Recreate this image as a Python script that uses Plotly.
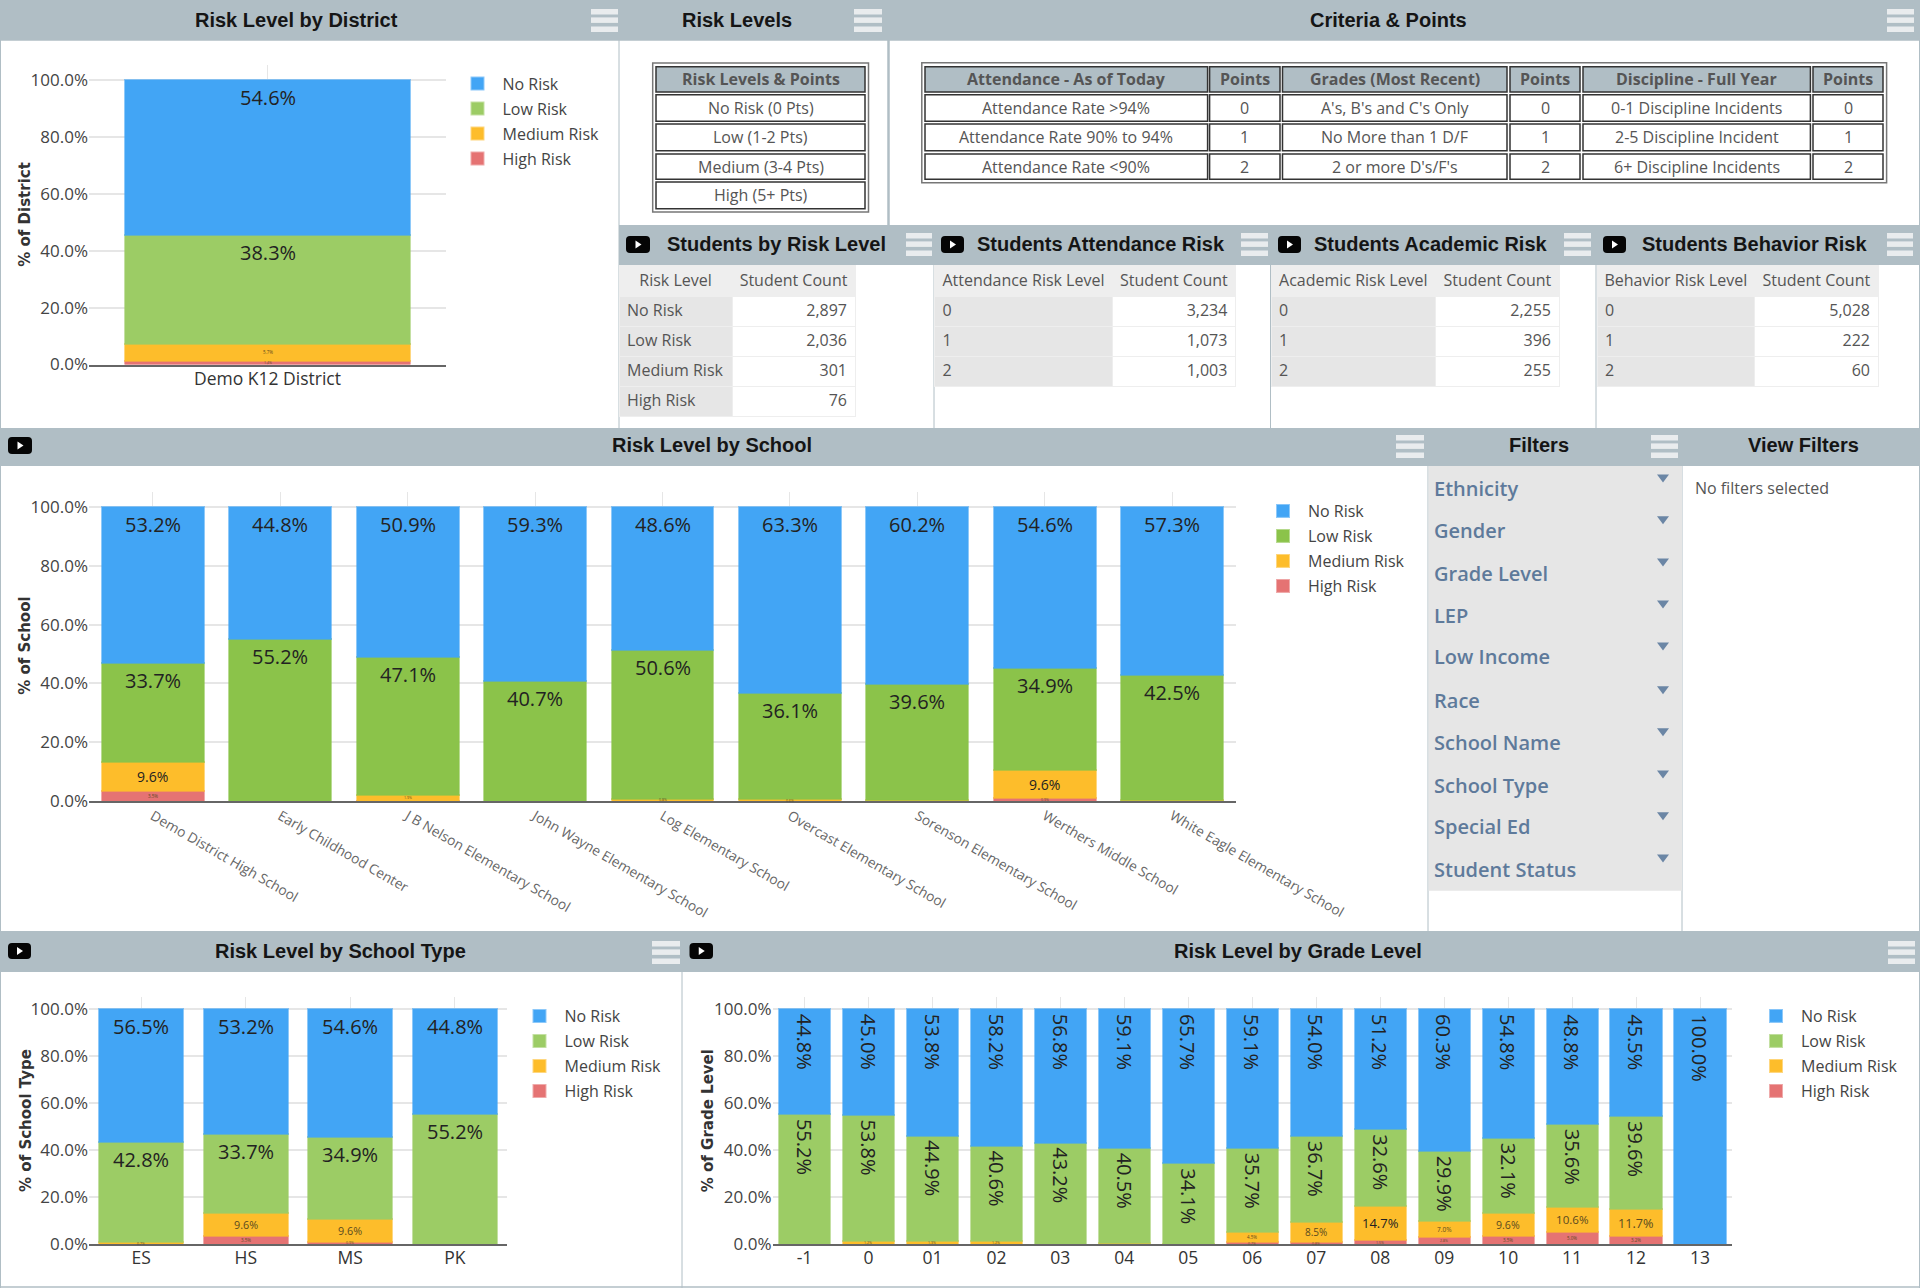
import plotly.graph_objects as go

W, H = 1920, 1288
RISKS = ["High Risk", "Medium Risk", "Low Risk", "No Risk"]

district_cats = ["Demo K12 District"]
district_no = [54.6]
district_low = [38.3]
district_med = [5.7]
district_high = [1.4]

school_cats = ["Demo District High School", "Early Childhood Center", "J B Nelson Elementary School",
               "John Wayne Elementary School", "Log Elementary School", "Overcast Elementary School",
               "Sorenson Elementary School", "Werthers Middle School", "White Eagle Elementary School"]
school_no = [53.2, 44.8, 50.9, 59.3, 48.6, 63.3, 60.2, 54.6, 57.3]
school_low = [33.7, 55.2, 47.1, 40.7, 50.6, 36.1, 39.6, 34.9, 42.5]
school_med = [9.6, 0, 1.9, 0, 0.8, 0.6, 0.2, 9.6, 0.2]
school_high = [3.5, 0, 0.1, 0, 0, 0, 0, 0.9, 0]

type_cats = ["ES", "HS", "MS", "PK"]
type_no = [56.5, 53.2, 54.6, 44.8]
type_low = [42.8, 33.7, 34.9, 55.2]
type_med = [0.7, 9.6, 9.6, 0]
type_high = [0, 3.5, 0.9, 0]

grade_cats = ["-1", "0", "01", "02", "03", "04", "05", "06", "07", "08", "09", "10", "11", "12", "13"]
grade_no = [44.8, 45.0, 53.8, 58.2, 56.8, 59.1, 65.7, 59.1, 54.0, 51.2, 60.3, 54.8, 48.8, 45.5, 100.0]
grade_low = [55.2, 53.8, 44.9, 40.6, 43.2, 40.5, 34.1, 35.7, 36.7, 32.6, 29.9, 32.1, 35.6, 39.6, 0]
grade_med = [0, 1.2, 1.3, 1.2, 0, 0.4, 0.2, 4.5, 8.5, 14.7, 7.0, 9.6, 10.6, 11.7, 0]
grade_high = [0, 0, 0, 0, 0, 0, 0, 0.7, 0.8, 1.5, 2.8, 3.5, 5.0, 3.2, 0]

y_tickvals = [0, 20, 40, 60, 80, 100]
y_ticktext = ["0.0%", "20.0%", "40.0%", "60.0%", "80.0%", "100.0%"]

levels_header = ["Risk Levels & Points"]
levels_rows = ["No Risk (0 Pts)", "Low (1-2 Pts)", "Medium (3-4 Pts)", "High (5+ Pts)"]

crit_header = ["Attendance - As of Today", "Points", "Grades (Most Recent)", "Points", "Discipline - Full Year", "Points"]
crit_attendance = ["Attendance Rate >94%", "Attendance Rate 90% to 94%", "Attendance Rate <90%"]
crit_grades = ["A's, B's and C's Only", "No More than 1 D/F", "2 or more D's/F's"]
crit_discipline = ["0-1 Discipline Incidents", "2-5 Discipline Incident", "6+ Discipline Incidents"]
crit_points = ["0", "1", "2"]

risk_labels = ["No Risk", "Low Risk", "Medium Risk", "High Risk"]
risk_counts = ["2,897", "2,036", "301", "76"]
level_labels = ["0", "1", "2"]
attendance_counts = ["3,234", "1,073", "1,003"]
academic_counts = ["2,255", "396", "255"]
behavior_counts = ["5,028", "222", "60"]

filter_names = ["Ethnicity", "Gender", "Grade Level", "LEP", "Low Income", "Race",
                "School Name", "School Type", "Special Ed", "Student Status"]

HEAD = "#B0BEC5"
BLUE, ORANGE, RED = "#42A5F5", "#FDBD2B", "#E57373"
GREEN_L, GREEN_D = "#9CCC65", "#8BC34A"
FONT = "Open Sans"
TXT = "#555555"


def X(p):
    return p / W


def Y(p):
    return 1 - p / H


def rgba(c, a=0.6):
    return f"rgba({int(c[1:3],16)},{int(c[3:5],16)},{int(c[5:7],16)},{a})"


def nowrap(s):
    return s.replace(" ", "\u00a0")


shapes, annos = [], []
fig = go.Figure()


def rect(x0, y0, x1, y1, fill=None, line=None, lw=1, layer="below"):
    shapes.append(dict(type="rect", xref="paper", yref="paper", x0=X(x0), x1=X(x1), y0=Y(y0), y1=Y(y1),
                       fillcolor=fill or "rgba(0,0,0,0)", line=dict(color=line or "rgba(0,0,0,0)", width=lw if line else 0),
                       layer=layer))


def text(x, y, s, size=15, color=TXT, family=FONT, weight=None, xanchor="center", angle=0):
    annos.append(dict(xref="paper", yref="paper", x=X(x), y=Y(y), text=s, showarrow=False, xanchor=xanchor,
                      yanchor="middle", borderpad=0, textangle=angle,
                      font=dict(size=size, color=color, family=family, weight=weight)))


def burger(x0, x1, y0):
    for dy in (0, 8.4, 17.5):
        rect(x0, y0 + dy, x1, y0 + dy + 5.5, fill="#E9ECEE", layer="above")


def play(x0, x1, y0, y1):
    r = 4
    shapes.append(dict(type="path", xref="paper", yref="paper", layer="above", fillcolor="#050505",
                       line=dict(width=0),
                       path=(f"M{X(x0+r)},{Y(y0)} L{X(x1-r)},{Y(y0)} Q{X(x1)},{Y(y0)} {X(x1)},{Y(y0+r)} "
                             f"L{X(x1)},{Y(y1-r)} Q{X(x1)},{Y(y1)} {X(x1-r)},{Y(y1)} L{X(x0+r)},{Y(y1)} "
                             f"Q{X(x0)},{Y(y1)} {X(x0)},{Y(y1-r)} L{X(x0)},{Y(y0+r)} Q{X(x0)},{Y(y0)} {X(x0+r)},{Y(y0)} Z")))
    cx, cy = (x0 + x1) / 2, (y0 + y1) / 2
    shapes.append(dict(type="path", xref="paper", yref="paper", layer="above", fillcolor="white", line=dict(width=0),
                       path=f"M{X(cx-2.5)},{Y(cy-4)} L{X(cx+3.5)},{Y(cy)} L{X(cx-2.5)},{Y(cy+4)} Z"))


# ---- panel headers
for x0, y0, x1, y1 in [(0, 0, W, 40.7), (619, 225, W, 265), (0, 428, W, 466), (0, 931, W, 972)]:
    rect(x0, y0, x1, y1, fill=HEAD)

# ---- separators
for x0, y0, x1, y1, lw in [(619, 40, 619, 428, 1), (888.5, 40, 888.5, 225, 2.5),
                           (934, 265, 934, 428, 1), (1270.5, 265, 1270.5, 428, 1), (1596, 265, 1596, 428, 1),
                           (1428, 466, 1428, 931, 1), (1682, 466, 1682, 931, 1), (682, 972, 682, 1288, 1),
                           (0.5, 40, 0.5, 1288, 1), (0, 1287, W, 1287, 1.5), (1919.5, 40, 1919.5, 1288, 1)]:
    shapes.append(dict(type="line", xref="paper", yref="paper", x0=X(x0), x1=X(x1), y0=Y(y0), y1=Y(y1),
                       line=dict(color=HEAD, width=lw), layer="below"))

# ---- titles and icons
for cx, cy, s in [(296.5, 20.5, "Risk Level by District"), (736.5, 20.5, "Risk Levels"), (1388, 20.5, "Criteria & Points"),
                  (776, 244, "Students by Risk Level"), (1100.5, 244, "Students Attendance Risk"),
                  (1431, 244, "Students Academic Risk"), (1754, 244, "Students Behavior Risk"),
                  (712, 445, "Risk Level by School"), (1539, 445, "Filters"), (1803, 445, "View Filters"),
                  (340, 950.7, "Risk Level by School Type"), (1298, 950.7, "Risk Level by Grade Level")]:
    text(cx, cy, s, size=20, color="#151515", family="Liberation Sans", weight="bold")

for x0, x1, y0 in [(591, 618, 9), (854, 882, 9), (1887, 1914, 9),
                   (906, 932, 233), (1241, 1268, 233), (1564, 1591, 233), (1887, 1913, 233),
                   (1396, 1424, 435), (1651, 1678, 435), (652, 680, 941), (1888, 1915, 941)]:
    burger(x0, x1, y0)

for x0, x1, y0, y1 in [(626, 650, 236, 253), (941, 964, 236, 253), (1278, 1301, 236, 253), (1603, 1626, 236, 253),
                       (8, 32, 437, 454), (8, 31, 943, 959), (689.5, 713, 943, 959)]:
    play(x0, x1, y0, y1)

# ---- filters
rect(1428.5, 466, 1682, 890.7, fill="#E6E6E6")
name_y = [489, 530.7, 573, 615, 657, 700.7, 742.7, 785, 826.7, 869]
for i, n in enumerate(filter_names):
    text(1433, name_y[i], n, size=20, color="#5E7A9B", weight=600, xanchor="left")
    ty = name_y[i] - 10.5
    shapes.append(dict(type="path", xref="paper", yref="paper", layer="above", fillcolor="#6B86A5", line=dict(width=0),
                       path=f"M{X(1657)},{Y(ty-4)} L{X(1669)},{Y(ty-4)} L{X(1663)},{Y(ty+4)} Z"))
text(1694, 487.5, "No filters selected", size=16, xanchor="left")


# ---- count tables
def table(x0, x1, y0, col_w, header, cols, head_h, row_h, head_fill, col_fills, aligns,
          line="#EEEEEE", lw=1, head_align="center", size=16):
    h = head_h + row_h * len(cols[0]) + 4
    fig.add_trace(go.Table(
        domain=dict(x=[X(x0), X(x1)], y=[Y(y0 + h), Y(y0)]),
        columnwidth=col_w,
        header=dict(values=[nowrap(v) for v in header], height=head_h, align=head_align,
                    fill=dict(color=head_fill), line=dict(color=line, width=lw),
                    font=dict(family=FONT, size=size, color=TXT)),
        cells=dict(values=[[nowrap(v) for v in c] for c in cols], height=row_h, align=aligns,
                   fill=dict(color=col_fills), line=dict(color=line, width=lw),
                   font=dict(family=FONT, size=size, color=TXT))))


LBL = "#E6E6E6"
table(619, 855, 265.5, [113, 123], ["Risk Level", "Student Count"], [risk_labels, risk_counts], 30.5, 30,
      "#EEEEEE", [LBL, "white"], ["left", "right"])
table(934.4, 1236, 265.5, [178.4, 123.2], ["Attendance Risk Level", "Student Count"], [level_labels, attendance_counts],
      30.5, 30, "#EEEEEE", [LBL, "white"], ["left", "right"])
table(1271, 1559, 265.5, [164.7, 123.3], ["Academic Risk Level", "Student Count"], [level_labels, academic_counts],
      30.5, 30, "#EEEEEE", [LBL, "white"], ["left", "right"])
table(1597, 1878.7, 265.5, [158, 123.7], ["Behavior Risk Level", "Student Count"], [level_labels, behavior_counts],
      30.5, 30, "#EEEEEE", [LBL, "white"], ["left", "right"])

# ---- double-line bordered tables
row_edges = [(66.7, 92), (94.7, 121.3), (124, 150.7), (154, 179.3), (182, 208.7)]
crit_edges = [(925, 1207.6), (1209.6, 1280), (1282.5, 1507), (1510, 1580), (1583, 1810.4), (1813, 1883)]
FRAME = "#333333"


def bordered(col_edges, header, columns, outer):
    rows = [header] + [list(r) for r in zip(*columns)]
    rect(*outer, line="#777777", lw=1.5, layer="above")
    for r, cells in enumerate(rows):
        a, b = row_edges[r]
        for (c, d), s in zip(col_edges, cells):
            rect(c, a, d, b, fill=HEAD if r == 0 else None, line=FRAME, lw=1.5, layer="below")
            text((c + d) / 2, (a + b) / 2, s, size=16, weight="bold" if r == 0 else None)


bordered([(656, 865)], levels_header, [levels_rows], (652.7, 63, 868.5, 212))
bordered(crit_edges, crit_header, [crit_attendance, crit_points, crit_grades, crit_points, crit_discipline, crit_points],
         (921.8, 62.7, 1886.6, 182.7))


# ---- charts
def label_size(v, tiny_scale):
    if v >= 29:
        return 20
    if v >= 14:
        return 13
    if v >= 9:
        return round(v * 1.0 + 1.0 if tiny_scale == 1 else 14 if tiny_scale == 2 else 10.8, 1)
    if v >= 8:
        return 10
    if v >= 6.5:
        return 6.5
    if v >= 3:
        return 4.5
    return 3.5


def chart(idx, cats, series, px_box, green, title, title_x, rotate=False, tick_angle=0, tick_color="#333333",
          tick_size=17.5, tick_off=-3, legend_cx=None, legend_top=None, tiny_scale=1):
    sid = "" if idx == 1 else str(idx)
    xname, yname = f"x{sid}", f"y{sid}"
    left, right, top, bottom = px_box
    colors = [RED, ORANGE, green, BLUE]
    for k, (name, vals, c) in enumerate(zip(RISKS, series, colors)):
        fig.add_trace(go.Bar(x=cats, y=vals, name=name, xaxis=xname, yaxis=yname,
                             marker=dict(color=c, line=dict(color=rgba(c), width=2)),
                             legend=f"legend{sid}", legendgroup=f"{idx}-{name}", legendrank=100 - k,
                             hoverinfo="x+y+name"))
    fig.update_layout({
        f"xaxis{sid}": dict(domain=[X(left), X(right)], anchor=yname, type="category", categoryorder="array",
                            categoryarray=cats, showgrid=True, gridcolor="#E6E6E6", gridwidth=1, showline=True,
                            linecolor="#666666", linewidth=2, ticks="", tickangle=tick_angle, ticklabelstandoff=tick_off,
                            tickfont=dict(family=FONT, size=tick_size, color=tick_color), zeroline=False),
        f"yaxis{sid}": dict(domain=[Y(bottom), Y(top)], anchor=xname, range=[0, 105.2], tickmode="array",
                            tickvals=y_tickvals, ticktext=y_ticktext, showgrid=True, gridcolor="#E6E6E6", gridwidth=2,
                            zeroline=False, showline=False, ticks="",
                            tickfont=dict(family=FONT, size=17, color="#444444")),
        f"legend{sid}": dict(x=X(legend_cx - 25), y=Y(legend_top), xanchor="left", yanchor="top", itemwidth=40,
                             bgcolor="rgba(0,0,0,0)", tracegroupgap=1.2, traceorder="grouped",
                             font=dict(family=FONT, size=16, color="#444444")),
    })
    text(title_x, (top + bottom) / 2, f"<b>{title}</b>", size=15, color="#333333", family="DejaVu Sans", angle=-90)
    # value labels, placed on each stacked segment
    for j in range(len(cats)):
        base = 0
        for vals in series:
            v = vals[j]
            if v >= 0.5:
                sz = label_size(v, tiny_scale)
                big = sz >= 19
                annos.append(dict(xref=xname, yref=yname, x=j, y=(base + v) if big else base + v / 2,
                                  text=f"{v:.1f}%", showarrow=False, borderpad=0, textangle=90 if (rotate and big) else 0,
                                  xanchor="center", yanchor="top" if big else "middle",
                                  yshift=(-4 if rotate else -3) if big else 0,
                                  font=dict(family=FONT, size=sz, color="#222222" if sz >= 13 else "#5a4a20")))
            base += v


chart(1, district_cats, [district_high, district_med, district_low, district_no], (89, 446, 65, 364.5), GREEN_L,
      "% of District", 25, legend_cx=477.5, legend_top=66.5)
chart(2, school_cats, [school_high, school_med, school_low, school_no], (89, 1236, 491.7, 801), GREEN_D,
      "% of School", 25.5, tick_angle=30, tick_color="#666666", tick_size=13.8, tick_off=0, legend_cx=1283,
      legend_top=494, tiny_scale=2)
chart(3, type_cats, [type_high, type_med, type_low, type_no], (89, 507, 997, 1244), GREEN_L,
      "% of School Type", 25.4, legend_cx=539.5, legend_top=999, tiny_scale=3)
chart(4, grade_cats, [grade_high, grade_med, grade_low, grade_no], (772.5, 1732, 997, 1244), GREEN_L,
      "% of Grade Level", 707.7, rotate=True, legend_cx=1776, legend_top=999)

fig.update_layout(width=W, height=H, margin=dict(l=0, r=0, t=0, b=0, autoexpand=False), paper_bgcolor="white",
                  plot_bgcolor="white", barmode="stack", bargap=0.2, shapes=shapes, annotations=annos, showlegend=True,
                  font=dict(family=FONT))

fig.write_html("out.html", config={"displayModeBar": False},
               post_script="document.body.style.margin='0';document.documentElement.style.overflow='hidden';")
